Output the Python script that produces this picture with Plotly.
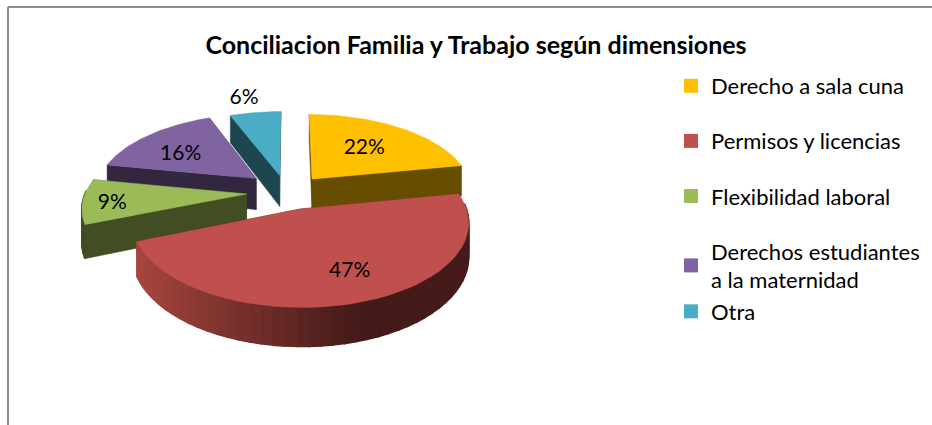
import math
import plotly.graph_objects as go

TITLE = "Conciliacion Familia y Trabajo según dimensiones"
categories = ["Derecho a sala cuna", "Permisos y licencias", "Flexibilidad laboral",
              "Derechos estudiantes<br>a la maternidad", "Otra"]
values = [22, 47, 9, 16, 6]
colors = ["#FFC000", "#C0504D", "#9BBB59", "#8064A2", "#4BACC6"]
side_colors = ["#664D00", "#4D1F1D", "#414D22", "#33263F", "#1E4650"]
explode = [0.22, 0.22, 0.27, 0.28, 0.23]
explode_turn = [0, 0, 0, 0, -6]
label_radius = [0.57, 0.72, 0.82, 0.62, 1.27]
label_turn = [0, -5, -3, -6, -2]

FONT = "Lato"
CX, CY, A, B, P, H = 290, 192, 161, 78, 0.15, 32


def project(x, y, z=0.0):
    w = 1 + P * y
    wd = 1 + 0.15 * y
    return CX + A * x / w, CY - B * y / w + H * z / wd


def hexrgb(c):
    return tuple(int(c[i:i + 2], 16) for i in (1, 3, 5))


def mix(c1, c2, f):
    a, b = hexrgb(c1), hexrgb(c2)
    return "rgb(%d,%d,%d)" % tuple(round(a[i] + (b[i] - a[i]) * f) for i in range(3))


fig = go.Figure()


def poly(pts, color, lw=0.5):
    fig.add_trace(go.Scatter(
        x=[p[0] for p in pts] + [pts[0][0]], y=[p[1] for p in pts] + [pts[0][1]],
        mode="lines", fill="toself", fillcolor=color,
        line=dict(color=color, width=lw), hoverinfo="skip", showlegend=False))


total = sum(values)
spans = []
acc = 0.0
for v in values:
    spans.append((acc / total * 2 * math.pi, (acc + v) / total * 2 * math.pi))
    acc += v

label_x, label_y, label_text = [], [], []
for i in [4, 3, 2, 0, 1]:
    t0, t1 = spans[i]
    mid = (t0 + t1) / 2
    em = mid + math.radians(explode_turn[i])
    ax, ay = explode[i] * math.sin(em), explode[i] * math.cos(em)
    n = 48
    angles = [t0 + (t1 - t0) * k / n for k in range(n + 1)]
    rim = [(ax + math.sin(t), ay + math.cos(t)) for t in angles]
    # radial side faces
    for e in (rim[0], rim[-1]):
        poly([project(ax, ay), project(*e), project(e[0], e[1], 1), project(ax, ay, 1)], side_colors[i])
    # outer wall
    for k in range(n):
        a, b = rim[k], rim[k + 1]
        if (a[1] + b[1]) / 2 - ay > 0.05:
            continue
        if i == 1:
            px = (project(*a)[0] - 136) / 333
            col = mix("#A8463F", "#451B19", min(1, max(0, px * 1.5)))
        else:
            col = side_colors[i]
        poly([project(*a), project(*b), project(b[0], b[1], 1), project(a[0], a[1], 1)], col, 1.5)
    # top face
    poly([project(ax, ay)] + [project(*p) for p in rim], colors[i])
    lm = mid + math.radians(label_turn[i])
    lx, ly = project(ax + label_radius[i] * math.sin(lm), ay + label_radius[i] * math.cos(lm))
    label_x.append(lx)
    label_y.append(ly)
    label_text.append(f"{values[i]}%")

fig.add_trace(go.Scatter(x=label_x, y=label_y, text=label_text, mode="text",
                         textfont=dict(family=FONT, size=21, color="#000000"),
                         hoverinfo="skip", showlegend=False))

for i, name in enumerate(categories):
    fig.add_trace(go.Scatter(x=[None], y=[None], mode="markers", name=name,
                             legendgroup="g3" if i >= 3 else f"g{i}",
                             marker=dict(symbol="square", size=14, color=colors[i])))

fig.update_layout(
    width=932, height=425, margin=dict(l=0, r=0, t=0, b=0),
    paper_bgcolor="white", plot_bgcolor="white",
    xaxis=dict(range=[0, 932], visible=False, fixedrange=True),
    yaxis=dict(range=[425, 0], visible=False, fixedrange=True),
    title=dict(text=f"<b>{TITLE}</b>", x=476 / 932, xanchor="center", y=1 - 45 / 425, yanchor="middle",
               font=dict(family=FONT, size=25, color="#000000")),
    legend=dict(x=671 / 932, y=1 - 65 / 425, xanchor="left", yanchor="top", tracegroupgap=23.5,
                font=dict(family=FONT, size=22, color="#000000"), bgcolor="rgba(0,0,0,0)"),
    shapes=[
        dict(type="line", xref="x", yref="y", x0=8, x1=8, y0=7, y1=425, line=dict(color="#8C8C8C", width=2)),
        dict(type="line", xref="x", yref="y", x0=8, x1=932, y0=7, y1=7, line=dict(color="#8C8C8C", width=2)),
    ],
)
fig.write_html("out.html", config={"displayModeBar": False},
               post_script="document.body.style.margin='0';")
